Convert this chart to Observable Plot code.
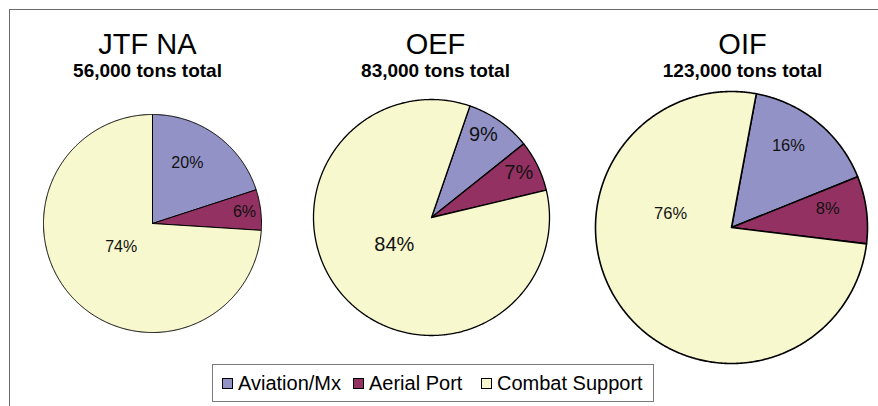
<!DOCTYPE html>
<html>
<head>
<meta charset="utf-8">
<script src="https://cdn.jsdelivr.net/npm/d3@7"></script>
<script src="https://cdn.jsdelivr.net/npm/@observablehq/plot@0.6"></script>
<style>
  html, body { margin: 0; padding: 0; background: #fff; }
  #wrap { position: relative; width: 878px; height: 406px; overflow: hidden; font-family: "Liberation Sans", Arial, sans-serif; }
  #frame { position: absolute; left: 9px; top: 9px; width: 900px; height: 396px; border-left: 1px solid #6a6a6a; border-top: 1px solid #6a6a6a; }
  #chart { position: absolute; left: 0; top: 0; }
  #legend { position: absolute; left: 212px; top: 364px; width: 442px; height: 38px; box-sizing: border-box; border: 1px solid #7a7a7a; background: #fff; }
  .item { position: absolute; top: 0; height: 36px; display: flex; align-items: center; font-size: 20px; line-height: 20px; color: #000; white-space: nowrap; }
  .sw { width: 11px; height: 11px; box-sizing: border-box; border: 1px solid #000; margin-right: 5px; }
</style>
</head>
<body>
<div id="wrap">
  <div id="frame"></div>
  <div id="chart"></div>
  <div id="legend"></div>
</div>
<script>
// ---- data ----
const categories = ["Aviation/Mx", "Aerial Port", "Combat Support"];
const colors = ["#9292C6", "#933262", "#F8F8CE"];
const pieNames = ["JTF NA", "OEF", "OIF"];
const totals = ["56,000 tons total", "83,000 tons total", "123,000 tons total"];
const jtfValues = [20, 6, 74];
const oefValues = [9, 7, 84];
const oifValues = [16, 8, 76];
const seriesValues = [jtfValues, oefValues, oifValues];

// ---- layout (pixels / styles) ----
const W = 878, H = 406;
const layout = [
  {cx: 152, cy: 223, r: 109, start: 0,    titleX: 147, font: 16,   sw: 1.0, labels: [[0.64, 30], [0.85, 83], [0.36, 233]]},
  {cx: 431, cy: 217, r: 118, start: 19,   titleX: 435, font: 20,   sw: 1.3, labels: [[0.83, 32], [0.83, 63], [0.39, 234]]},
  {cx: 731, cy: 227, r: 136, start: 10.5, titleX: 742, font: 16.5, sw: 1.6, labels: [[0.73, 35], [0.72, 79], [0.46, 283]]}
];
const rad = Math.PI / 180;

const marks = [];
pieNames.forEach((name, p) => {
  const L = layout[p];
  const vals = seriesValues[p];
  const total = d3.sum(vals);
  const pts = [];
  const labels = [];
  let acc = 0;
  vals.forEach((v, i) => {
    const a0 = L.start + acc / total * 360;
    acc += v;
    const a1 = L.start + acc / total * 360;
    const id = name + "-" + i;
    pts.push({id, cat: categories[i], x: L.cx, y: L.cy});
    const n = Math.max(2, Math.ceil((a1 - a0) / 0.5));
    for (let k = 0; k <= n; k++) {
      const a = (a0 + (a1 - a0) * k / n) * rad;
      pts.push({id, cat: categories[i], x: L.cx + L.r * Math.sin(a), y: L.cy - L.r * Math.cos(a)});
    }
    pts.push({id, cat: categories[i], x: L.cx, y: L.cy});
    const [f, ang] = L.labels[i];
    labels.push({text: v + "%", x: L.cx + f * L.r * Math.sin(ang * rad), y: L.cy - f * L.r * Math.cos(ang * rad)});
  });
  marks.push(Plot.line(pts, {x: "x", y: "y", z: "id", fill: "cat", stroke: "#000", strokeWidth: L.sw, strokeLinejoin: "round", curve: "linear"}));
  marks.push(Plot.text(labels, {x: "x", y: "y", text: "text", fontSize: L.font, fill: "#111", lineAnchor: "middle"}));
  marks.push(Plot.text([name], {x: () => L.titleX, y: () => 53, text: d => d, fontSize: 29, fill: "#000", lineAnchor: "bottom"}));
  marks.push(Plot.text([totals[p]], {x: () => L.titleX, y: () => 76, text: d => d, fontSize: 19, fontWeight: "bold", fill: "#000", lineAnchor: "bottom"}));
});

const chart = Plot.plot({
  width: W, height: H, margin: 0,
  style: {fontFamily: '"Liberation Sans", Arial, sans-serif', background: "transparent", overflow: "visible"},
  x: {domain: [0, W], range: [0, W], axis: null},
  y: {domain: [0, H], range: [0, H], axis: null},
  color: {domain: categories, range: colors},
  marks
});
document.getElementById("chart").appendChild(chart);

// legend
const legend = document.getElementById("legend");
const itemLeft = [9, 140, 268];
categories.forEach((c, i) => {
  const it = document.createElement("div");
  it.className = "item";
  it.style.left = itemLeft[i] + "px";
  const sw = document.createElement("div");
  sw.className = "sw";
  sw.style.background = colors[i];
  it.appendChild(sw);
  it.appendChild(document.createTextNode(c));
  legend.appendChild(it);
});
</script>
</body>
</html>
